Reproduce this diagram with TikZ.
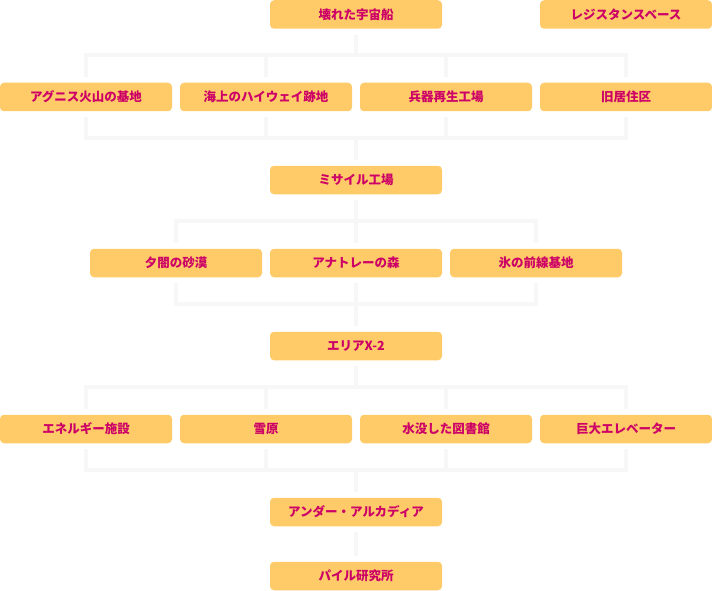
\documentclass[tikz,border=0pt]{standalone}
\usepackage{fontspec}
\setmainfont{Noto Sans CJK JP}
\definecolor{caja}{RGB}{254,203,104}
\definecolor{texto}{RGB}{204,0,102}
\definecolor{linea}{RGB}{247,247,247}
\begin{document}
\begin{tikzpicture}[x=1pt,y=-1pt,
        box/.style={rectangle,rounded corners=4pt,fill=caja,text=texto,
            minimum width=172pt,minimum height=28.5pt,inner sep=0pt,
            font=\fontsize{12.5}{14}\selectfont\bfseries},
        link/.style={draw=linea,line width=4pt},
        linkin/.style={link,shorten >=6pt},
        linkout/.style={link,shorten <=6pt}]
        \useasboundingbox (0,0) rectangle (712,591);

        % ~~~~ Nivel 1 ~~~~ %
        \node[box] (ship) at (356,14.5) {壊れた宇宙船};
        \node[box] (resist) at (626,14.5) {レジスタンスベース};

        % ~~~~ Nivel 2 ~~~~ %
        \node[box] (agni) at (86,97) {アグニス火山の基地};
        \node[box] (highway) at (266,97) {海上のハイウェイ跡地};
        \node[box] (arms) at (446,97) {兵器再生工場};
        \node[box] (oldres) at (626,97) {旧居住区};

        % ~~~~ Nivel 3 ~~~~ %
        \node[box] (missile) at (356,180) {ミサイル工場};

        % ~~~~ Nivel 4 ~~~~ %
        \node[box] (desert) at (176,263) {夕闇の砂漠};
        \node[box] (forest) at (356,263) {アナトレーの森};
        \node[box] (ice) at (536,263) {氷の前線基地};

        % ~~~~ Nivel 5 ~~~~ %
        \node[box] (areax) at (356,346) {エリアX-2};

        % ~~~~ Nivel 6 ~~~~ %
        \node[box] (energy) at (86,429) {エネルギー施設};
        \node[box] (snow) at (266,429) {雪原};
        \node[box] (library) at (446,429) {水没した図書館};
        \node[box] (elevator) at (626,429) {巨大エレベーター};

        % ~~~~ Nivel 7 y 8 ~~~~ %
        \node[box] (under) at (356,512) {アンダー・アルカディア};
        \node[box] (pile) at (356,576) {パイル研究所};

        % ~~~~ Uniones ~~~~ %
        \coordinate (j1) at (356,55);
        \coordinate (j2) at (356,138);
        \coordinate (j3) at (356,221);
        \coordinate (j4) at (356,304);
        \coordinate (j5) at (356,387);
        \coordinate (j6) at (356,470);

        % ~~~~ Conectores ~~~~ %
        \draw[linkout] (ship) -- (j1);
        \foreach \n in {agni,highway,arms,oldres}
            \draw[linkin] (j1) -| (\n);
        \foreach \n in {agni,highway,arms,oldres}
            \draw[linkout] (\n) |- (j2);
        \draw[linkin] (j2) -- (missile);

        \draw[linkout] (missile) -- (j3);
        \foreach \n in {desert,forest,ice}
            \draw[linkin] (j3) -| (\n);
        \foreach \n in {desert,forest,ice}
            \draw[linkout] (\n) |- (j4);
        \draw[linkin] (j4) -- (areax);

        \draw[linkout] (areax) -- (j5);
        \foreach \n in {energy,snow,library,elevator}
            \draw[linkin] (j5) -| (\n);
        \foreach \n in {energy,snow,library,elevator}
            \draw[linkout] (\n) |- (j6);
        \draw[linkin] (j6) -- (under);

        \draw[linkin,linkout] (under) -- (pile);
\end{tikzpicture}
\end{document}
